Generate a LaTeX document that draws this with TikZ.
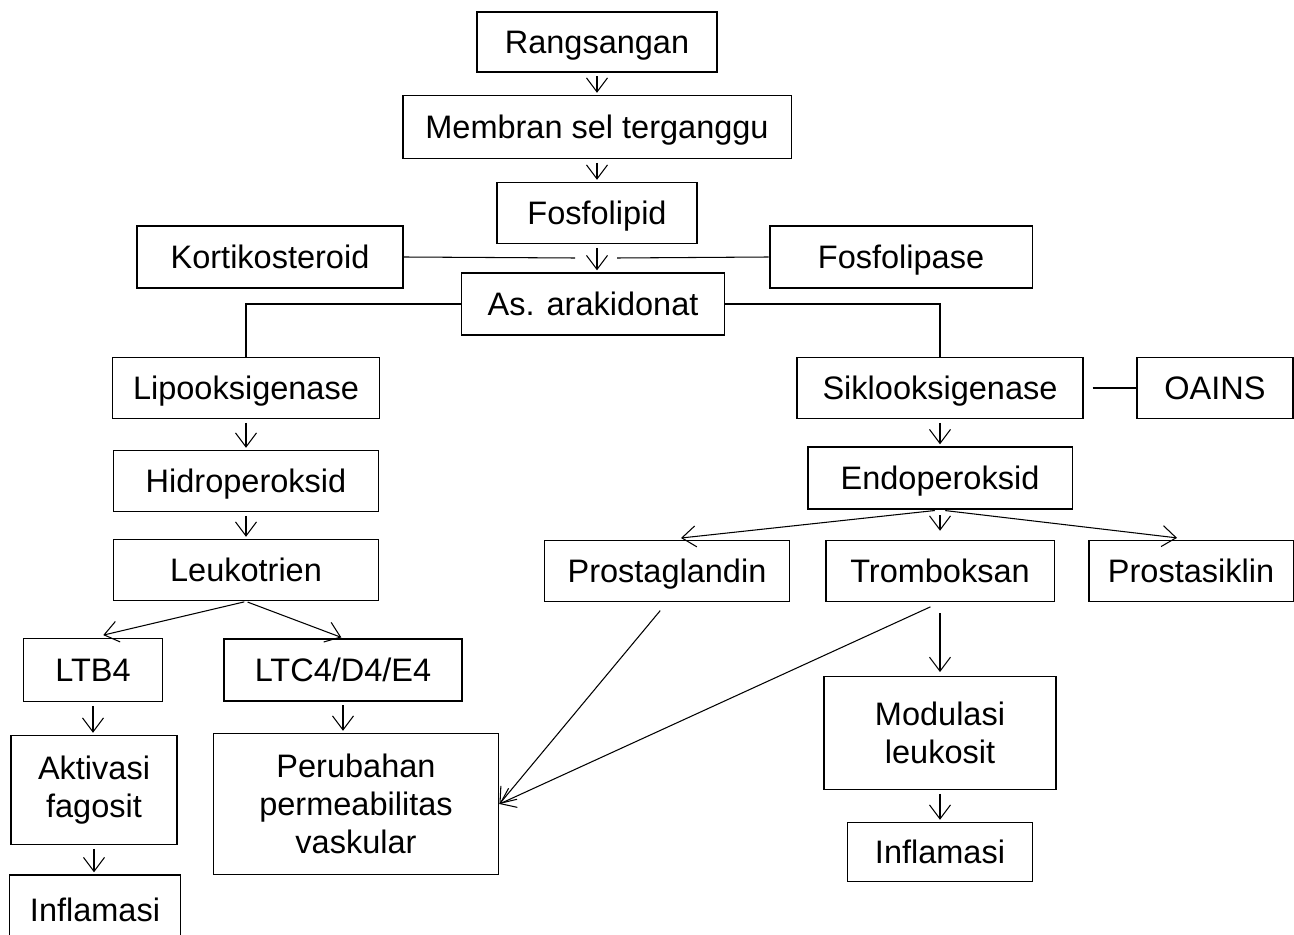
\documentclass[tikz,border=0pt]{standalone}
\usepackage{fontspec}
\setmainfont{Liberation Sans}
\usetikzlibrary{arrows.meta,positioning,calc}
\tikzset{
    every picture/.style={line join=miter},
    flowbox/.style={draw=black,line width=1.1pt,inner sep=2pt,align=center,
      font=\fontsize{18.5}{21.5}\selectfont},
    oneline/.style={flowbox,text height=13pt,text depth=0pt},
    flowarrow/.style={-{Straight Barb[length=2.8mm,width=4.2mm]},line width=0.6pt},
    plainline/.style={line width=0.6pt}
}

\begin{document}
\begin{tikzpicture}[x=0.02cm,y=-0.02cm]
  \useasboundingbox (0,0) rectangle (1294,935);
  % main column
  \node[oneline,minimum width=4.8cm,minimum height=1.2cm] (rang) at (597,42) {Rangsangan};
  \node[oneline,minimum width=7.78cm,minimum height=1.26cm] (membran) at (597,127) {Membran sel terganggu};
  \node[oneline,minimum width=4cm,minimum height=1.22cm] (fosfo) at (597,213) {Fosfolipid};
  \node[oneline,minimum width=5.32cm,minimum height=1.24cm] (korti) at (270,257) {Kortikosteroid};
  \node[oneline,minimum width=5.26cm,minimum height=1.24cm] (lipase) at (901,257) {Fosfolipase};
  \node[oneline,minimum width=5.26cm,minimum height=1.24cm] (asam) at (593,304) {As. arakidonat};
  % lipooksigenase branch
  \node[oneline,minimum width=5.34cm,minimum height=1.22cm] (lipo) at (246,388) {Lipooksigenase};
  \node[oneline,minimum width=5.3cm,minimum height=1.22cm] (hidro) at (246,481) {Hidroperoksid};
  \node[oneline,minimum width=5.3cm,minimum height=1.22cm] (leuko) at (246,570) {Leukotrien};
  \node[oneline,minimum width=2.78cm,minimum height=1.26cm] (ltb) at (93,670) {LTB4};
  \node[oneline,minimum width=4.76cm,minimum height=1.24cm] (ltc) at (343,670) {LTC4/D4/E4};
  \node[flowbox,minimum width=3.32cm,minimum height=2.18cm] (aktivasi) at (94,790) {Aktivasi\\fagosit};
  \node[oneline,minimum width=3.42cm,minimum height=1.4cm] (inflamA) at (95,910) {Inflamasi};
  \node[flowbox,minimum width=5.7cm,minimum height=2.82cm] (perubahan) at (356,804) {Perubahan\\permeabilitas\\vaskular};
  % siklooksigenase branch
  \node[oneline,minimum width=5.72cm,minimum height=1.22cm] (siklo) at (940,388) {Siklooksigenase};
  \node[oneline,minimum width=3.12cm,minimum height=1.22cm] (oains) at (1215,388) {OAINS};
  \node[oneline,minimum width=5.3cm,minimum height=1.24cm] (endo) at (940,478) {Endoperoksid};
  \node[oneline,minimum width=4.9cm,minimum height=1.22cm] (prostag) at (667,571) {Prostaglandin};
  \node[oneline,minimum width=4.58cm,minimum height=1.22cm] (trombo) at (940,571) {Tromboksan};
  \node[oneline,minimum width=4.1cm,minimum height=1.22cm] (prostas) at (1191,571) {Prostasiklin};
  \node[flowbox,minimum width=4.64cm,minimum height=2.26cm] (modulasi) at (940,733) {Modulasi\\leukosit};
  \node[oneline,minimum width=3.7cm,minimum height=1.18cm] (inflamB) at (940,852) {Inflamasi};

  \coordinate (gapL) at (575,258);
  \coordinate (gapR) at (617,258);

  % short downward arrows
  \foreach \a/\b in {rang/membran,membran/fosfo,fosfo/asam,lipo/hidro,hidro/leuko,
                     ltb/aktivasi,aktivasi/inflamA,ltc/perubahan,siklo/endo,modulasi/inflamB}
    \draw[flowarrow,shorten <=2pt,shorten >=1pt] (\a.south) -- (\a.south |- \b.north);

  \draw[plainline] (korti.east) -- (gapL);
  \draw[plainline] (gapR) -- (lipase.west);
  \draw[plainline] (asam.west) -| (lipo.north);
  \draw[plainline] (asam.east) -| (siklo.north);
  \draw[plainline,shorten <=5pt] (siklo.east) -- (oains.west);

  % forks
  \draw[flowarrow,shorten <=1pt,shorten >=6pt] (leuko.south) -- (ltb.north);
  \draw[flowarrow,shorten <=1pt,shorten >=1pt] (leuko.south) -- (ltc.north);
  \draw[flowarrow,shorten <=3pt,shorten >=8pt] (endo.south) -- (prostag.north);
  \draw[flowarrow,shorten <=3pt,shorten >=5pt] (endo.south) -- (trombo.north);
  \draw[flowarrow,shorten <=3pt,shorten >=8pt] (endo.south) -- (prostas.north);
  \draw[flowarrow,shorten <=6pt] (prostag.south) -- (perubahan.east);
  \draw[flowarrow,shorten <=6pt] (trombo.south) -- (perubahan.east);
  \draw[flowarrow,shorten <=6pt,shorten >=2pt] (trombo.south) -- (modulasi.north);
\end{tikzpicture}
\end{document}
